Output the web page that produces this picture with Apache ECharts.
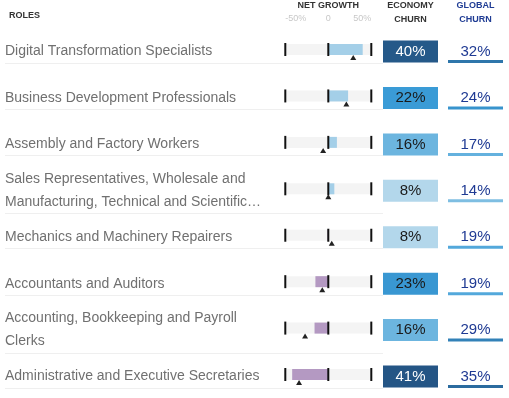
<!DOCTYPE html>
<html>
<head>
<meta charset="utf-8">
<script src="https://cdn.jsdelivr.net/npm/echarts@6/dist/echarts.min.js"></script>
<style>html,body{margin:0;padding:0;background:#fff}#main{width:509px;height:398px}</style>
</head>
<body>
<div id="main"></div>
<script>
// rows, top to bottom
const roles = [
    'Digital Transformation Specialists',
    'Business Development Professionals',
    'Assembly and Factory Workers',
    'Sales Representatives, Wholesale and\nManufacturing, Technical and Scientific…',
    'Mechanics and Machinery Repairers',
    'Accountants and Auditors',
    'Accounting, Bookkeeping and Payroll\nClerks',
    'Administrative and Executive Secretaries'
];
const netGrowth = [40, 23, 10, 7, -1, -15, -16, -42];
const netGrowthMarker = [29, 21, -6, 0, 4, -7, -27, -34];
const economyChurn = [40, 22, 16, 8, 8, 23, 16, 41];
const globalChurn = [32, 24, 17, 14, 19, 19, 29, 35];
const growthTicks = [-50, 0, 50];

const FONT = '"Liberation Sans", Arial, sans-serif';
const rowH = 46.43;
const gridH = rowH * roles.length;

// colour ramp used for churn cells
const stops = [[8, [179, 215, 235]], [16, [108, 181, 223]], [22, [58, 155, 214]], [41, [36, 85, 133]]];
function churnColor(v) {
    if (v <= stops[0][0]) return 'rgb(' + stops[0][1].join(',') + ')';
    for (let i = 1; i < stops.length; i++) {
        if (v <= stops[i][0]) {
            const a = stops[i - 1], b = stops[i];
            const t = (v - a[0]) / (b[0] - a[0]);
            const c = a[1].map((x, k) => Math.round(x + (b[1][k] - x) * t));
            return 'rgb(' + c.join(',') + ')';
        }
    }
    return 'rgb(' + stops[stops.length - 1][1].join(',') + ')';
}

const tickData = [];
roles.forEach((r, i) => growthTicks.forEach(t => tickData.push([t, i])));

const hiddenAxis = {
    axisLine: {show: false},
    axisTick: {show: false},
    splitLine: {show: false}
};

const myChart = echarts.init(document.getElementById('main'));
myChart.setOption({
    animation: false,
    title: {
        text: 'ROLES',
        left: 4,
        top: 6,
        textStyle: {fontFamily: FONT, fontSize: 9, fontWeight: 'bold', color: '#333'}
    },
    grid: [
        {left: 285.3, width: 86, top: 26.3, height: gridH, outerBoundsMode: 'none'},
        {left: 383, width: 55, top: 28.3, height: gridH, outerBoundsMode: 'none'},
        {left: 448, width: 55, top: 38.3, height: gridH, outerBoundsMode: 'none'}
    ],
    xAxis: [
        {
            gridIndex: 0,
            type: 'value',
            min: -50,
            max: 50,
            interval: 50,
            position: 'top',
            name: 'NET GROWTH',
            nameLocation: 'middle',
            nameGap: 16,
            nameMoveOverlap: false,
            nameTextStyle: {fontFamily: FONT, fontSize: 9, fontWeight: 'bold', color: '#333'},
            axisLabel: {
                margin: 3,
                fontFamily: FONT,
                fontSize: 9,
                color: '#c8c8c8',
                alignMinLabel: 'left',
                alignMaxLabel: 'right',
                formatter: v => v === 0 ? '0' : v + '%'
            },
            ...hiddenAxis
        },
        {
            gridIndex: 1,
            type: 'category',
            data: ['ECONOMY\nCHURN'],
            position: 'top',
            axisLabel: {margin: 2.5, fontFamily: FONT, fontSize: 9, fontWeight: 'bold', color: '#333', lineHeight: 13.5},
            ...hiddenAxis
        },
        {
            gridIndex: 2,
            type: 'category',
            data: ['GLOBAL\nCHURN'],
            position: 'top',
            axisLabel: {margin: 12.5, fontFamily: FONT, fontSize: 9, fontWeight: 'bold', color: '#1f3c94', lineHeight: 13.5},
            ...hiddenAxis
        }
    ],
    yAxis: [
        {gridIndex: 0, type: 'category', data: roles, inverse: true, axisLabel: {show: false}, ...hiddenAxis},
        {
            gridIndex: 1,
            type: 'category',
            data: roles,
            inverse: true,
            axisLabel: {
                align: 'left',
                margin: 378,
                fontFamily: FONT,
                fontSize: 14,
                lineHeight: 23,
                color: '#707070'
            },
            ...hiddenAxis
        },
        {gridIndex: 2, type: 'category', data: roles, inverse: true, axisLabel: {show: false}, ...hiddenAxis}
    ],
    series: [
        {
            // row separators
            type: 'custom',
            xAxisIndex: 0,
            yAxisIndex: 0,
            silent: true,
            z: 1,
            data: roles.map((r, i) => [0, i, r.split('\n').length]),
            renderItem: (params, api) => {
                const y = Math.round(api.coord([0, api.value(1)])[1] + (api.value(2) > 1 ? 24.5 : 13)) + 0.5;
                return {
                    type: 'line',
                    shape: {x1: 5, y1: y, x2: 383, y2: y},
                    style: {stroke: '#efefef', lineWidth: 1}
                };
            }
        },
        {
            type: 'bar',
            xAxisIndex: 0,
            yAxisIndex: 0,
            barWidth: 11,
            showBackground: true,
            backgroundStyle: {color: '#f4f4f4'},
            itemStyle: {
                color: p => p.value < 0 ? '#b499c2' : '#a4cfe8'
            },
            data: netGrowth
        },
        {
            type: 'scatter',
            xAxisIndex: 0,
            yAxisIndex: 0,
            symbol: 'rect',
            symbolSize: [2, 13],
            itemStyle: {color: '#111', opacity: 1},
            z: 3,
            data: tickData
        },
        {
            type: 'scatter',
            xAxisIndex: 0,
            yAxisIndex: 0,
            symbol: 'triangle',
            symbolSize: [6, 5],
            symbolOffset: [0, 8],
            itemStyle: {color: '#222', opacity: 1},
            z: 4,
            data: netGrowthMarker.map((v, i) => [v, i])
        },
        {
            type: 'scatter',
            xAxisIndex: 1,
            yAxisIndex: 1,
            symbol: 'rect',
            symbolSize: [55, 22],
            itemStyle: {opacity: 1},
            label: {
                show: true,
                position: 'inside',
                fontFamily: FONT,
                fontSize: 15,
                formatter: p => p.value[2] + '%'
            },
            data: economyChurn.map((v, i) => ({
                value: [0, i, v],
                itemStyle: {color: churnColor(v)},
                label: {color: v >= 30 ? '#fff' : '#1a1a1a'}
            }))
        },
        {
            type: 'scatter',
            xAxisIndex: 2,
            yAxisIndex: 2,
            symbol: 'rect',
            symbolSize: [55, 3],
            itemStyle: {opacity: 1},
            label: {
                show: true,
                position: 'top',
                distance: 1,
                fontFamily: FONT,
                fontSize: 15,
                color: '#1f3a93',
                formatter: p => p.value[2] + '%'
            },
            data: globalChurn.map((v, i) => ({
                value: [0, i, v],
                itemStyle: {color: churnColor(v)}
            }))
        }
    ]
});
</script>
</body>
</html>
